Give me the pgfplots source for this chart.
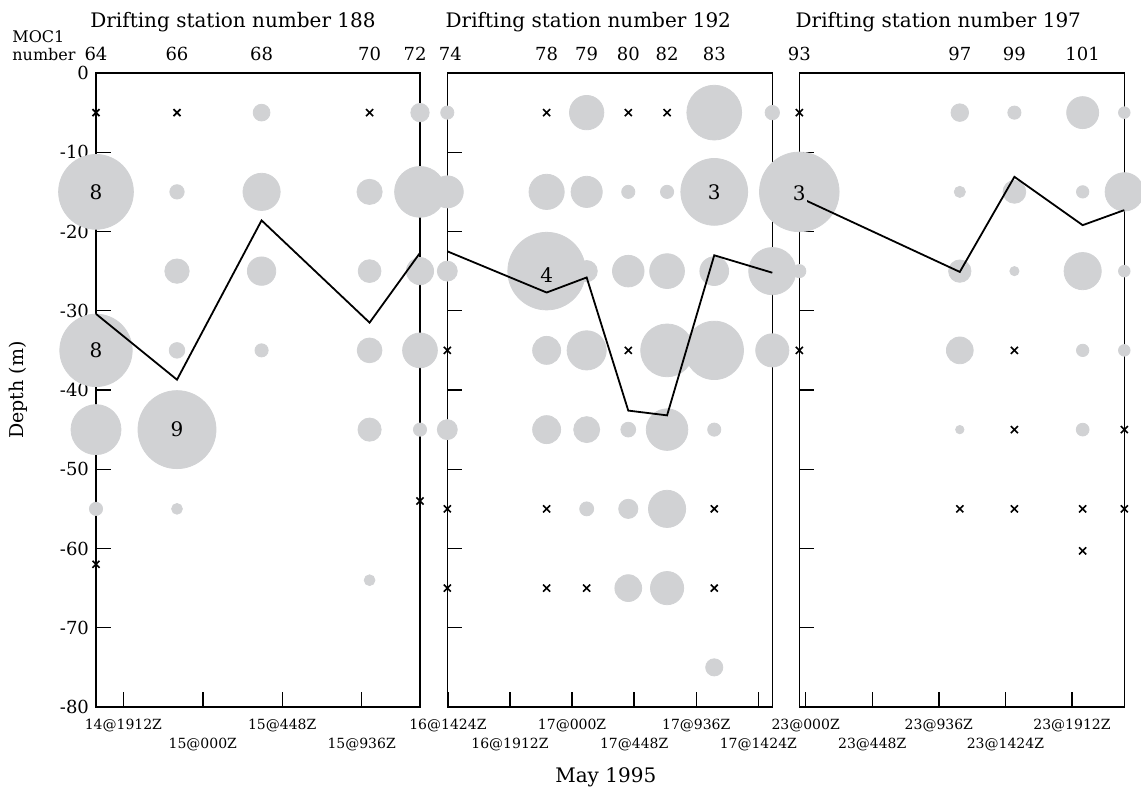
\documentclass[border=0pt]{standalone}
\usepackage{fontspec}
\setmainfont{DejaVu Serif}
\usepackage{pgfplots}
\pgfplotsset{compat=1.18}
\usepackage{pgfplotstable}
\definecolor{bubgray}{RGB}{209,210,212}

% ---------- Station 188 ----------
\pgfplotstableread{
x y r
14.731 -15 18.7
14.731 -35 18.1
14.731 -45 12.5
14.731 -55 3.3
14.935 -15 3.6
14.935 -25 6.1
14.935 -35 3.9
14.935 -45 19.5
14.935 -55 2.7
15.148 -5 4.2
15.148 -15 9.3
15.148 -25 7.1
15.148 -35 3.3
15.420 -15 6.3
15.420 -25 5.7
15.420 -35 6.2
15.420 -45 5.8
15.420 -64 2.7
15.547 -5 4.6
15.547 -15 12.7
15.547 -25 6.8
15.547 -35 8.7
15.547 -45 3.3
}\bubA
\pgfplotstableread{
x y
14.731 -5
14.731 -62
14.935 -5
15.420 -5
15.547 -54
}\crossA
\pgfplotstableread{
x y
14.731 -30.4
14.935 -38.7
15.148 -18.6
15.420 -31.5
15.547 -22.7
}\lineA

% ---------- Station 192 ----------
\pgfplotstableread{
x y r
16.598 -5 3.3
16.598 -15 8.0
16.598 -25 5.0
16.598 -45 5.0
16.918 -15 8.8
16.918 -25 19.4
16.918 -35 7.0
16.918 -45 7.0
17.047 -5 8.6
17.047 -15 7.8
17.047 -25 5.3
17.047 -35 9.8
17.047 -45 6.5
17.047 -55 3.5
17.181 -15 3.3
17.181 -25 7.9
17.181 -45 3.7
17.181 -55 4.8
17.181 -65 6.7
17.306 -15 3.3
17.306 -25 8.7
17.306 -35 13.2
17.306 -45 10.4
17.306 -55 9.3
17.306 -65 8.3
17.458 -5 13.7
17.458 -15 16.7
17.458 -25 7.2
17.458 -35 14.6
17.458 -45 3.3
17.458 -75 4.3
17.645 -5 3.6
17.645 -25 11.8
17.645 -35 8.3
}\bubB
\pgfplotstableread{
x y
16.598 -35
16.598 -55
16.598 -65
16.918 -5
16.918 -55
16.918 -65
17.047 -65
17.181 -5
17.181 -35
17.306 -5
17.458 -55
17.458 -65
}\crossB
\pgfplotstableread{
x y
16.598 -22.5
16.918 -27.7
17.047 -25.8
17.181 -42.6
17.306 -43.2
17.458 -23.0
17.645 -25.2
}\lineB

% ---------- Station 197 ----------
\pgfplotstableread{
x y r
22.981 -15 19.9
22.981 -25 3.3
23.463 -5 4.4
23.463 -15 2.8
23.463 -25 5.6
23.463 -35 6.7
23.463 -45 2.1
23.627 -5 3.3
23.627 -15 5.7
23.627 -25 2.3
23.832 -5 8.0
23.832 -15 3.1
23.832 -25 9.3
23.832 -35 3.1
23.832 -45 3.2
23.957 -5 2.9
23.957 -15 9.6
23.957 -25 2.9
23.957 -35 2.9
}\bubC
\pgfplotstableread{
x y
22.981 -5
22.981 -35
23.463 -55
23.627 -35
23.627 -45
23.627 -55
23.832 -55
23.832 -60.3
23.957 -45
23.957 -55
}\crossC
\pgfplotstableread{
x y
22.981 -15.7
23.463 -25.1
23.627 -13.1
23.832 -19.2
23.957 -17.3
}\lineC

\tikzset{
  numlab/.style={font=\fontsize{10}{12}\selectfont, inner sep=0.6pt},
  ttl/.style={anchor=base west, inner sep=0pt, font=\fontsize{10}{12}\selectfont},
  moc/.style={anchor=base, font=\fontsize{9}{10}\selectfont},
}
\pgfplotsset{
  geom/.style={
    scale only axis, width=162.5pt, height=317pt,
    anchor=south west, ymin=-80, ymax=0, clip=false,
  },
  panel/.style={
    geom,
    ytick={0,-10,-20,-30,-40,-50,-60,-70,-80},
    axis line style={line width=0.7pt},
    tick align=inside, major tick length=7.5pt,
    every tick/.style={line width=0.7pt, black},
    xtick pos=bottom, ytick pos=left,
    /pgf/number format/assume math mode=true,
    yticklabel style={font=\fontsize{9}{10}\selectfont},
    xticklabel style={font=\fontsize{7}{8}\selectfont, yshift=-2.5pt},
    extra x tick style={xticklabel style={yshift=-9.5pt}},
  },
  overlay/.style={geom, hide axis},
  bubble/.style={scatter, only marks, mark=*,
    scatter/use mapped color={draw=bubgray, fill=bubgray},
    visualization depends on={\thisrow{r}\as\rad},
    scatter/@pre marker code/.append style={/tikz/mark size=\rad}},
  cross/.style={only marks, mark=x, mark size=2.5pt, black, mark options={line width=0.8pt}},
  mline/.style={black, line width=0.9pt, mark=none},
}

\begin{document}
\begin{tikzpicture}
\path[use as bounding box] (0,0) rectangle (570.5pt,395.5pt);

% ===== Panel 1 =====
\begin{axis}[panel, at={(48pt,42pt)}, width=162pt,
  xmin=14.731, xmax=15.547,
  xtick={14.8,15.2}, xticklabels={14@1912Z,15@448Z},
  extra x ticks={15.0,15.4}, extra x tick labels={15@000Z,15@936Z},
]
\addplot[bubble] table[x=x,y=y,meta=r] {\bubA};
\node[ttl] at ([xshift=-3pt,yshift=23pt]rel axis cs:0,1) {Drifting station number 188};
\node[anchor=base west, inner sep=0pt, font=\fontsize{8}{9}\selectfont] at ([xshift=-42pt,yshift=15.5pt]rel axis cs:0,1) {MOC1};
\node[anchor=base west, inner sep=0pt, font=\fontsize{8}{9}\selectfont] at ([xshift=-42pt,yshift=6.5pt]rel axis cs:0,1) {number};
\node[moc] at ([yshift=6.5pt]axis cs:14.731,0) {64};
\node[moc] at ([yshift=6.5pt]axis cs:14.935,0) {66};
\node[moc] at ([yshift=6.5pt]axis cs:15.148,0) {68};
\node[moc] at ([yshift=6.5pt]axis cs:15.420,0) {70};
\node[moc] at ([xshift=-2.5pt,yshift=6.5pt]axis cs:15.547,0) {72};
\node[rotate=90, font=\fontsize{9.5}{11}\selectfont] at ([xshift=-39pt]rel axis cs:0,0.5) {Depth (m)};
\end{axis}
\begin{axis}[overlay, at={(48pt,42pt)}, width=162pt, xmin=14.731, xmax=15.547]
\addplot[mline] table[x=x,y=y] {\lineA};
\addplot[cross] table[x=x,y=y] {\crossA};
\node[numlab] at (axis cs:14.731,-15) {8};
\node[numlab] at (axis cs:14.731,-35) {8};
\node[numlab] at (axis cs:14.935,-45) {9};
\end{axis}

% ===== Panel 2 =====
\begin{axis}[panel, at={(223.65pt,42pt)},
  xmin=16.598, xmax=17.645, yticklabels={},
  xtick={16.6,17.0,17.4}, xticklabels={16@1424Z,17@000Z,17@936Z},
  extra x ticks={16.8,17.2,17.6}, extra x tick labels={16@1912Z,17@448Z,17@1424Z},
]
\addplot[bubble] table[x=x,y=y,meta=r] {\bubB};
\node[ttl] at ([xshift=-1pt,yshift=23pt]rel axis cs:0,1) {Drifting station number 192};
\node[moc] at ([xshift=1.5pt,yshift=6.5pt]axis cs:16.598,0) {74};
\node[moc] at ([yshift=6.5pt]axis cs:16.918,0) {78};
\node[moc] at ([yshift=6.5pt]axis cs:17.047,0) {79};
\node[moc] at ([yshift=6.5pt]axis cs:17.181,0) {80};
\node[moc] at ([yshift=6.5pt]axis cs:17.306,0) {82};
\node[moc] at ([yshift=6.5pt]axis cs:17.458,0) {83};
\node[anchor=base, font=\fontsize{10}{12}\selectfont] at ([xshift=-2pt,yshift=-38pt]rel axis cs:0.5,0) {May 1995};
\end{axis}
\begin{axis}[overlay, at={(223.65pt,42pt)}, xmin=16.598, xmax=17.645]
\addplot[mline] table[x=x,y=y] {\lineB};
\addplot[cross] table[x=x,y=y] {\crossB};
\node[numlab] at (axis cs:16.918,-25.5) {4};
\node[numlab] at (axis cs:17.458,-15) {3};
\end{axis}

% ===== Panel 3 =====
\begin{axis}[panel, at={(399.65pt,42pt)},
  xmin=22.981, xmax=23.957, yticklabels={},
  xtick={23.0,23.4,23.8}, xticklabels={23@000Z,23@936Z,23@1912Z},
  extra x ticks={23.2,23.6}, extra x tick labels={23@448Z,23@1424Z},
]
\addplot[bubble] table[x=x,y=y,meta=r] {\bubC};
\node[ttl] at ([xshift=-2pt,yshift=23pt]rel axis cs:0,1) {Drifting station number 197};
\node[moc] at ([yshift=6.5pt]axis cs:22.981,0) {93};
\node[moc] at ([yshift=6.5pt]axis cs:23.463,0) {97};
\node[moc] at ([yshift=6.5pt]axis cs:23.627,0) {99};
\node[moc] at ([yshift=6.5pt]axis cs:23.832,0) {101};
\end{axis}
\begin{axis}[overlay, at={(399.65pt,42pt)}, xmin=22.981, xmax=23.957]
\addplot[mline] table[x=x,y=y] {\lineC};
\addplot[cross] table[x=x,y=y] {\crossC};
\node[numlab, fill=bubgray] at (axis cs:22.981,-15.2) {3};
\end{axis}
\end{tikzpicture}
\end{document}
